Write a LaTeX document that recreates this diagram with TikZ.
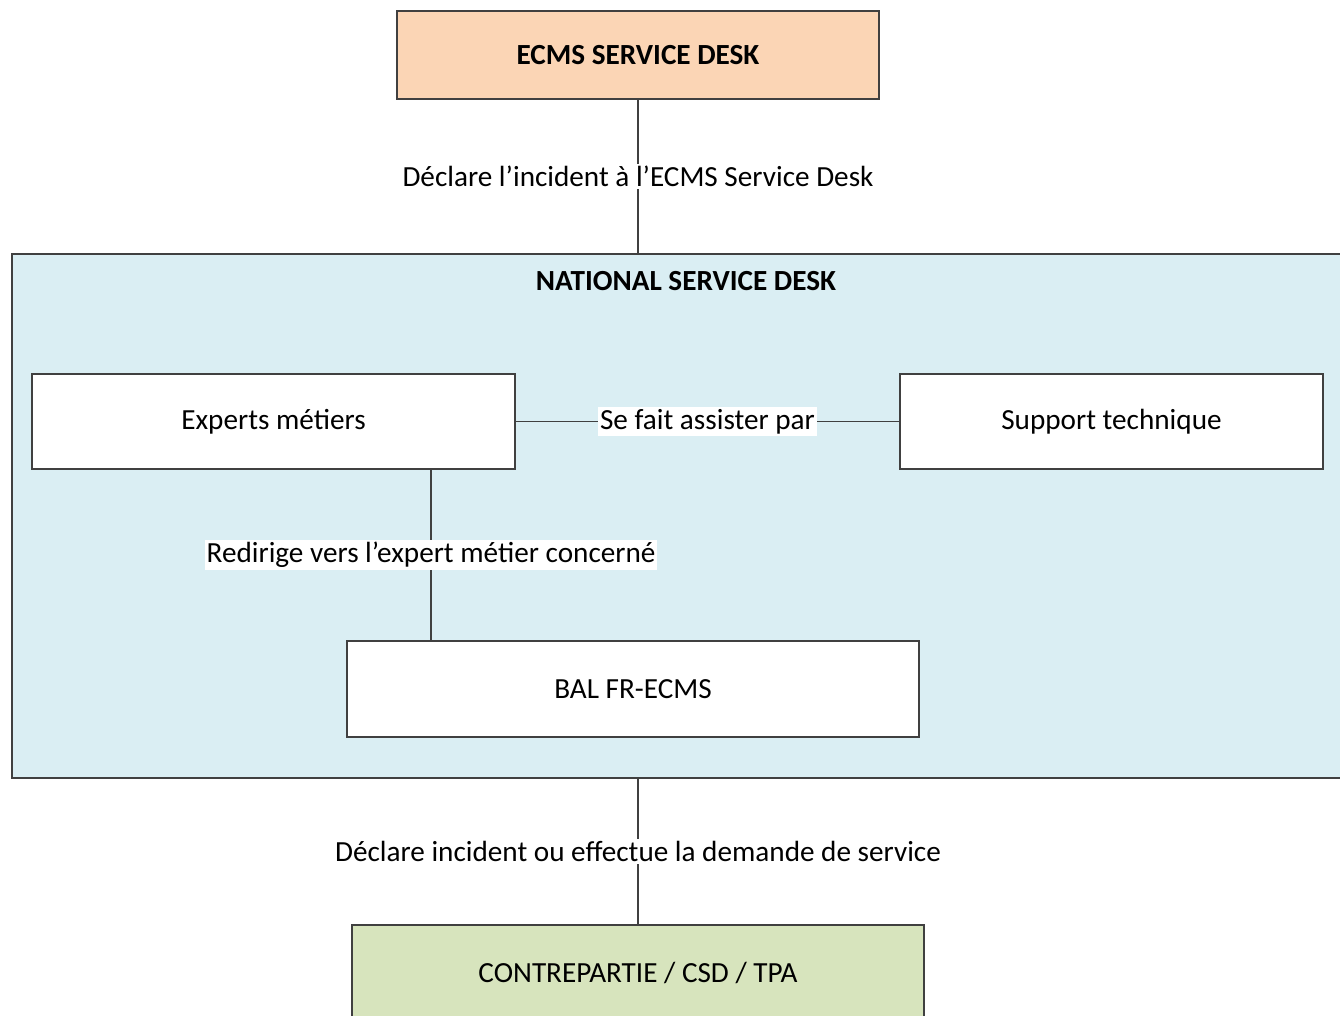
\documentclass[tikz,border=0pt]{standalone}
\usepackage{fontspec}
\setmainfont{Carlito}
\definecolor{peach}{HTML}{FBD5B5}
\definecolor{paleblue}{HTML}{DAEEF3}
\definecolor{palegreen}{HTML}{D7E4BD}
\definecolor{edgegray}{HTML}{404040}
\begin{document}
\begin{tikzpicture}[x=0.5pt,y=-0.5pt,
  every node/.style={font=\fontsize{14.6}{17}\selectfont},
  box/.style={draw=edgegray, line width=0.6pt, inner sep=0pt, outer sep=0pt},
  conn/.style={draw=edgegray, line width=0.6pt},
  lab/.style={fill=white, inner sep=1pt}]
\useasboundingbox (0,0) rectangle (1340,1016);
\clip (0,0) rectangle (1340,1016);
\fill[white] (0,0) rectangle (1340,1016);
% boxes
\node[box, fill=peach, minimum width=241pt, minimum height=44pt, font=\fontsize{14.6}{17}\selectfont\bfseries] (ecms) at (638,55) {ECMS SERVICE DESK};
\node[box, fill=paleblue, minimum width=666.5pt, minimum height=262pt] (nat) at (678.5,516) {};
\node[font=\fontsize{14.6}{17}\selectfont\bfseries] (nattitle) at (686,281) {NATIONAL SERVICE DESK};
\node[box, fill=white, minimum width=241.5pt, minimum height=47.5pt] (experts) at (273.5,421.5) {Experts métiers};
\node[box, fill=white, minimum width=211.5pt, minimum height=47.5pt] (support) at (1111.5,421.5) {Support technique};
\node[box, fill=white, minimum width=286pt, minimum height=48pt] (bal) at (633,689) {BAL FR-ECMS};
\node[box, fill=palegreen, minimum width=286pt, minimum height=47.5pt] (contre) at (638,972.5) {CONTREPARTIE / CSD / TPA};
% connectors
\coordinate (rx) at (431,0);
\draw[conn] (ecms.south) -- (ecms.south |- nat.north)
  node[lab, midway] (l1) {Déclare l’incident à l’ECMS Service Desk};
\draw[conn] (experts.east) -- (support.west)
  node[lab, midway] (l2) {Se fait assister par};
\draw[conn] (experts.south -| rx) -- (bal.north -| rx)
  node[lab, midway] (l3) {Redirige vers l’expert métier concerné};
\draw[conn] (nat.south -| contre.north) -- (contre.north)
  node[lab, midway] (l4) {Déclare incident ou effectue la demande de service};
\end{tikzpicture}
\end{document}
